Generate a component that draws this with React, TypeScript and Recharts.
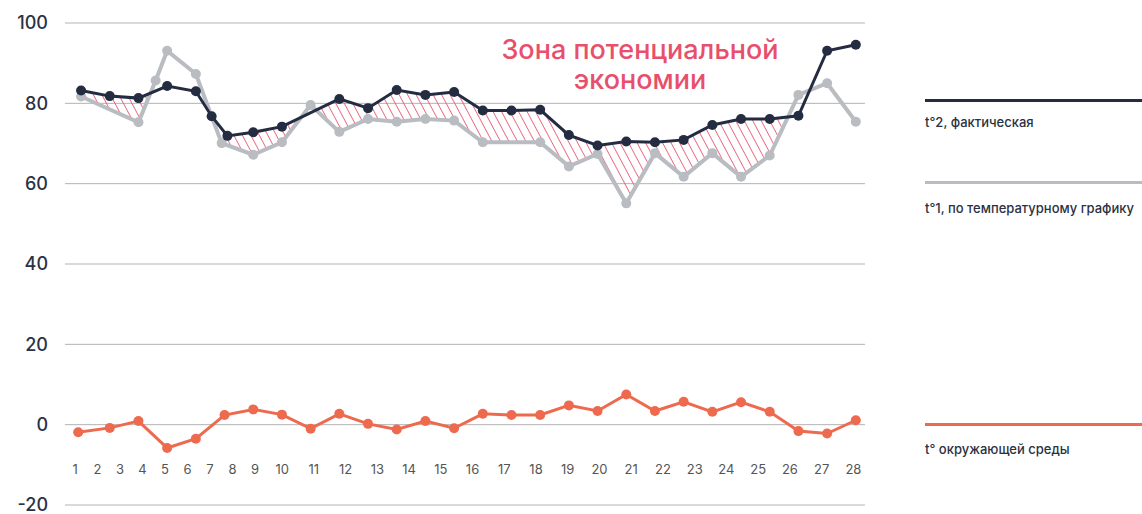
import { ComposedChart, Line, Area, XAxis, YAxis, CartesianGrid } from 'recharts';

const FONT = 'Inter, "Noto Sans", sans-serif';

const DAY_LABELS = [
  '1', '2', '3', '4', '5', '6', '7', '8', '9', '10', '11', '12', '13', '14',
  '15', '16', '17', '18', '19', '20', '21', '22', '23', '24', '25', '26', '27', '28',
];
const Y_TICKS = [-20, 0, 20, 40, 60, 80, 100];

// t°2, фактическая
const ACTUAL_DAYS = [1, 2, 3, 4, 5, 5.55, 6.1, 7, 8, 10, 11, 12, 13, 14, 15, 16, 17, 18, 19, 20, 21, 22, 23, 24, 25, 26, 27, 28];
const ACTUAL_VALUES = [83.2, 81.8, 81.3, 84.3, 83.0, 76.8, 71.9, 72.8, 74.2, 81.1, 78.8, 83.3, 82.1, 82.8, 78.2, 78.2, 78.4, 72.1, 69.5, 70.5, 70.3, 70.9, 74.6, 76.1, 76.1, 76.9, 93.1, 94.6];

// t°1, по температурному графику
const SCHEDULE_DAYS = [1, 3, 3.6, 4, 5, 5.9, 7, 8, 9, 10, 11, 12, 13, 14, 15, 17, 18, 19, 20, 21, 22, 23, 24, 25, 26, 27, 28];
const SCHEDULE_VALUES = [81.7, 75.3, 85.7, 93.1, 87.3, 70.1, 67.2, 70.3, 79.6, 72.9, 76.1, 75.4, 76.1, 75.7, 70.3, 70.3, 64.3, 67.4, 55.1, 67.6, 61.7, 67.6, 61.7, 67.0, 82.1, 85.0, 75.4];

// t° окружающей среды
const AMBIENT_DAYS = [0.9, 2, 3, 4, 5, 6, 7, 8, 9, 10, 11, 12, 13, 14, 15, 16, 17, 18, 19, 20, 21, 22, 23, 24, 25, 26, 27, 28];
const AMBIENT_VALUES = [-1.9, -0.8, 0.9, -5.8, -3.5, 2.4, 3.8, 2.5, -1.0, 2.7, 0.2, -1.2, 0.9, -0.9, 2.7, 2.4, 2.4, 4.8, 3.4, 7.5, 3.4, 5.7, 3.2, 5.6, 3.2, -1.6, -2.2, 1.1];

// зона потенциальной экономии (null = разрыв)
const ZONE_DAYS = [1, 2, 3, 3.42, 4.5, 5.55, 5.9, 6.1, 7, 8, 8.67, 8.9, 9.19, 10, 11, 12, 13, 14, 15, 16, 17, 18, 19, 20, 21, 22, 23, 24, 25, 25.64];
const ZONE_LOW = [81.7, 78.5, 75.3, 82.6, null, 76.8, 70.1, 69.6, 67.2, 70.3, 76.5, null, 78.3, 72.9, 76.1, 75.4, 76.1, 75.7, 70.3, 70.3, 70.3, 64.3, 67.4, 55.1, 67.6, 61.7, 67.6, 61.7, 67.0, 76.6];
const ZONE_HIGH = [83.2, 81.8, 81.3, 82.6, null, 76.8, 73.7, 71.9, 72.8, 74.2, 76.5, null, 78.3, 81.1, 78.8, 83.3, 82.1, 82.8, 78.2, 78.2, 78.4, 72.1, 69.5, 70.5, 70.3, 70.9, 74.6, 76.1, 76.1, 76.6];

// tick labels are set like running text: one-digit labels sit closer together
const FIRST_LABEL_AT = 0.79;
const STEP_ONE_DIGIT = 0.784;
const STEP_TWO_DIGITS = 1.106;
const labelStep = (s: string) => (s.length === 1 ? STEP_ONE_DIGIT : STEP_TWO_DIGITS);
const LABEL_TICKS = DAY_LABELS.reduce<number[]>((acc, lab, i) => {
  if (i === 0) return [FIRST_LABEL_AT];
  return [...acc, acc[i - 1] + (labelStep(DAY_LABELS[i - 1]) + labelStep(lab)) / 2];
}, []);

const toRows = (days: number[], values: number[]) => days.map((day, i) => ({ day, value: values[i] }));
const actualData = toRows(ACTUAL_DAYS, ACTUAL_VALUES);
const scheduleData = toRows(SCHEDULE_DAYS, SCHEDULE_VALUES);
const ambientData = toRows(AMBIENT_DAYS, AMBIENT_VALUES);
const zoneData = ZONE_DAYS.map((day, i) => ({
  day,
  band: ZONE_LOW[i] == null ? null : [ZONE_LOW[i], ZONE_HIGH[i]],
}));

const C_ACTUAL = '#232c40';
const C_SCHEDULE = '#b9bdc1';
const C_AMBIENT = '#ee6a4f';
const C_ZONE = '#e84f6b';

const LEGEND = [
  { name: 't°2, фактическая', color: C_ACTUAL, lineTop: 99, textTop: 114 },
  { name: 't°1, по температурному графику', color: C_SCHEDULE, lineTop: 181, textTop: 200 },
  { name: 't° окружающей среды', color: C_AMBIENT, lineTop: 423, textTop: 441 },
];

function LegendBlock() {
  return (
    <div style={{ position: 'absolute', left: 925, top: 0, width: 217, height: 514, fontFamily: FONT }}>
      {LEGEND.map((it) => (
        <div key={it.name}>
          <div style={{ position: 'absolute', left: 0, top: it.lineTop, width: 217, height: 3, background: it.color }} />
          <div style={{ position: 'absolute', left: 0, top: it.textTop, fontSize: 13, fontWeight: 500, lineHeight: '16px', color: '#2a3142', whiteSpace: 'nowrap' }}>
            {it.name}
          </div>
        </div>
      ))}
    </div>
  );
}

function DayTick(props: any) {
  const { x, y, index, payload } = props;
  const i = typeof index === 'number' ? index : LABEL_TICKS.indexOf(payload.value);
  return (
    <text x={x} y={y - 36} textAnchor="middle" dominantBaseline="central" fontSize={13} fill="#555" fontFamily={FONT}>
      {DAY_LABELS[i]}
    </text>
  );
}

export default function App() {
  return (
    <div style={{ position: 'absolute', left: 0, top: 0, width: 1142, height: 514, background: '#fff' }}>
      <ComposedChart width={1142} height={514} margin={{ top: 23, right: 277, bottom: 8, left: 0 }}>
        <defs>
          <pattern id="zoneHatch" patternUnits="userSpaceOnUse" width={7.5} height={7.5} patternTransform="rotate(-28)">
            <line x1={0} y1={0} x2={0} y2={7.5} stroke={C_ZONE} strokeWidth={1.6} />
          </pattern>
        </defs>
        <CartesianGrid vertical={false} stroke="#b3b3b3" />
        <XAxis
          type="number"
          dataKey="day"
          domain={[0.44, 28.32]}
          allowDataOverflow
          ticks={LABEL_TICKS}
          interval={0}
          height={1}
          axisLine={false}
          tickLine={false}
          tickSize={0}
          tickMargin={0}
          tick={<DayTick />}
        />
        <YAxis
          type="number"
          domain={[-20, 100]}
          ticks={Y_TICKS}
          interval={0}
          width={65}
          axisLine={false}
          tickLine={false}
          tickSize={0}
          tickMargin={17}
          tick={{ fontSize: 18, fontWeight: 500, fill: '#2b3245', fontFamily: FONT }}
        />
        <Area
          data={zoneData}
          dataKey="band"
          stroke="none"
          fill="url(#zoneHatch)"
          fillOpacity={1}
          isAnimationActive={false}
          legendType="none"
          activeDot={false}
        />
        <Line data={scheduleData} dataKey="value" name="t°1" stroke={C_SCHEDULE} strokeWidth={4} dot={{ r: 5, fill: C_SCHEDULE, stroke: 'none' }} activeDot={false} isAnimationActive={false} />
        <Line data={actualData} dataKey="value" name="t°2" stroke={C_ACTUAL} strokeWidth={3} dot={{ r: 5, fill: C_ACTUAL, stroke: 'none' }} activeDot={false} isAnimationActive={false} />
        <Line data={ambientData} dataKey="value" name="t°" stroke={C_AMBIENT} strokeWidth={3} dot={{ r: 5, fill: C_AMBIENT, stroke: 'none' }} activeDot={false} isAnimationActive={false} />
      </ComposedChart>
      <LegendBlock />
      <div
        style={{
          position: 'absolute', left: 470, top: 35, width: 340, textAlign: 'center',
          fontFamily: FONT, fontSize: 27, fontWeight: 500, lineHeight: '30px', color: C_ZONE,
        }}
      >
        Зона потенциальной
        <br />
        экономии
      </div>
    </div>
  );
}
